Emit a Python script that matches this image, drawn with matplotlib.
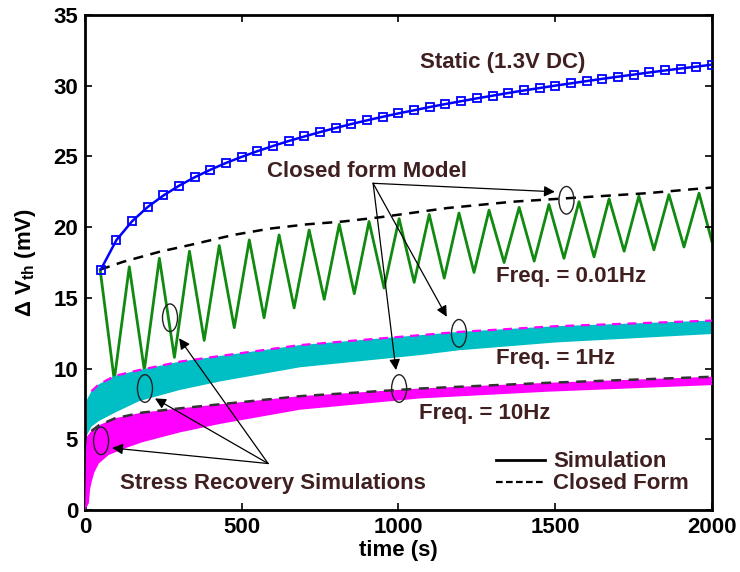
import numpy as np
import matplotlib.pyplot as plt
from matplotlib.patches import Ellipse
from matplotlib.lines import Line2D

plt.rcParams['font.family'] = ['Liberation Sans', 'DejaVu Sans']
plt.rcParams['font.weight'] = 'bold'
plt.rcParams['mathtext.fontset'] = 'custom'
plt.rcParams['mathtext.rm'] = 'Liberation Sans:bold'
plt.rcParams['mathtext.bf'] = 'Liberation Sans:bold'

# Static (1.3V DC) stress, simulation (markers every 50 s)
static_t = list(range(50, 2001, 50))
static_v = [17.0, 19.09, 20.42, 21.43, 22.24, 22.93, 23.53, 24.06, 24.54, 24.97,
            25.37, 25.74, 26.09, 26.41, 26.72, 27.01, 27.29, 27.55, 27.80, 28.04,
            28.26, 28.49, 28.70, 28.90, 29.10, 29.29, 29.48, 29.66, 29.83, 30.00,
            30.16, 30.32, 30.48, 30.63, 30.78, 30.93, 31.07, 31.21, 31.34, 31.48]

# Freq. = 0.01Hz simulation (peaks and valleys of the sawtooth)
f001_t = [48, 93, 141, 189, 237, 285, 333, 380, 428, 476, 524, 571, 619, 667,
          715, 763, 811, 859, 906, 954, 1002, 1050, 1098, 1146, 1193, 1241,
          1289, 1337, 1385, 1433, 1480, 1528, 1576, 1624, 1672, 1720, 1767,
          1815, 1863, 1911, 1959, 2000]
f001_v = [17.0, 9.2, 17.2, 9.9, 17.8, 10.8, 18.3, 12.0, 18.7, 12.9, 19.1, 13.6,
          19.45, 14.3, 19.8, 14.9, 20.2, 15.3, 20.4, 15.7, 20.6, 16.1, 20.9,
          16.4, 21.0, 16.8, 21.2, 17.5, 21.4, 17.6, 21.6, 17.8, 21.8, 17.9,
          22.0, 18.3, 22.2, 18.4, 22.3, 18.6, 22.4, 19.0]

# Freq. = 0.01Hz closed form
f001_cf_t = [48, 121, 239, 335, 473, 590, 708, 823, 941, 1155, 1365, 1579, 1793, 2000]
f001_cf_v = [17.0, 17.55, 18.27, 18.74, 19.45, 19.9, 20.2, 20.4, 20.7, 21.35,
             21.8, 22.1, 22.4, 22.8]

# Freq. = 1Hz simulation band (upper edge = closed form)
f1_up_t = [0, 6, 20, 44, 96, 172, 303, 431, 686, 1069, 1193, 1500, 2000]
f1_up_v = [0.0, 7.8, 8.4, 8.9, 9.5, 9.9, 10.5, 10.9, 11.67, 12.37, 12.6, 13.0, 13.4]
f1_lo_t = [0, 6, 20, 44, 96, 172, 303, 431, 686, 1069, 1193, 1500, 2000]
f1_lo_v = [0.0, 5.3, 5.9, 6.3, 6.9, 7.7, 8.5, 9.1, 10.1, 10.96, 11.3, 11.85, 12.45]

# Freq. = 10Hz simulation band (upper edge = closed form)
f10_up_t = [0, 3, 6, 20, 44, 96, 182, 303, 686, 1069, 1473, 2000]
f10_up_v = [0.0, 4.5, 5.2, 5.6, 6.0, 6.5, 6.9, 7.2, 8.06, 8.6, 9.0, 9.43]
f10_lo_t = [0, 12, 16, 22, 30, 44, 75, 118, 182, 303, 431, 686, 1069, 1473, 2000]
f10_lo_v = [0.0, 0.5, 1.5, 2.1, 2.7, 3.3, 3.9, 4.3, 4.8, 5.5, 6.1, 7.1, 7.9, 8.37, 8.84]

text_color = '#3f1f1f'
fs = 16

fig = plt.figure(figsize=(7.4, 5.72), dpi=100)
ax = fig.add_axes([0.115, 0.108, 0.847, 0.866])

# bands
ax.fill(f1_up_t + f1_lo_t[::-1], f1_up_v + f1_lo_v[::-1], color='#00bfc4', lw=0, zorder=2)
ax.fill(f10_up_t + f10_lo_t[::-1], f10_up_v + f10_lo_v[::-1], color='#ff00ff', lw=0, zorder=3)
ax.plot(f1_up_t[2:], f1_up_v[2:], color='#ff00ff', lw=1.6, ls=(0, (4, 3)), zorder=4)
ax.plot(f10_up_t[3:], f10_up_v[3:], color='#333333', lw=1.8, ls=(0, (4, 3)), zorder=4)

# 0.01Hz and static
ax.plot(f001_t, f001_v, color='#108a10', lw=2.0, zorder=1.5)
ax.plot(f001_cf_t, f001_cf_v, color='k', lw=1.8, ls=(0, (4, 3)), zorder=4)
ax.plot(static_t, static_v, color='#0000ff', lw=1.8, marker='s', ms=5.5,
        mfc='none', mew=1.3, zorder=5)

# ellipses marking the curves
ellipses = [(1536, 21.9), (1193, 12.5), (1002, 8.6), (51, 4.9), (191, 8.6), (271, 13.6)]
for cx, cy in ellipses:
    ax.add_patch(Ellipse((cx, cy), 48, 1.95, fill=False, ec='#222222', lw=1.0, zorder=6))

arrow = dict(arrowstyle='-|>', color='k', lw=0.9, mutation_scale=16, shrinkA=0, shrinkB=0)
for end in [(1499, 22.5), (1154, 13.67), (992, 9.9)]:
    ax.annotate('', xy=end, xytext=(919, 23.1), arrowprops=arrow, zorder=7)
for end in [(86, 4.4), (223, 7.9), (300, 12.15)]:
    ax.annotate('', xy=end, xytext=(584, 3.3), arrowprops=arrow, zorder=7)

tk = dict(color=text_color, fontsize=fs, fontweight='bold', ha='center', va='center', zorder=8)
ax.text(1333, 31.6, 'Static (1.3V DC)', **tk)
ax.text(901, 23.9, 'Closed form Model', **tk)
ax.text(1552, 16.5, 'Freq. = 0.01Hz', **tk)
ax.text(1502, 10.75, 'Freq. = 1Hz', **tk)
ax.text(1274, 6.86, 'Freq. = 10Hz', **tk)
ax.text(598, 1.9, 'Stress Recovery Simulations', **tk)

handles = [Line2D([], [], color='k', lw=2.0),
           Line2D([], [], color='k', lw=1.6, ls=(0, (3, 1.5)))]
leg = ax.legend(handles, ['Simulation', 'Closed Form'], loc='lower right',
                bbox_to_anchor=(0.985, 0.005), frameon=False, fontsize=fs,
                handlelength=2.2, handletextpad=0.4, labelspacing=0.05,
                borderaxespad=0.2)
for txt in leg.get_texts():
    txt.set_color(text_color)

ax.set_xlim(0, 2000)
ax.set_ylim(0, 35)
ax.set_xticks([0, 500, 1000, 1500, 2000])
ax.set_yticks(range(0, 36, 5))
ax.tick_params(direction='in', top=True, right=True, length=5, width=1.2,
               labelsize=fs, pad=5)
for s in ax.spines.values():
    s.set_linewidth(2.0)

ax.set_xlabel('time (s)', fontsize=fs, fontweight='bold', labelpad=1)
ax.set_ylabel(r'Δ V$_{\mathbf{th}}$ (mV)', fontsize=fs, fontweight='bold', labelpad=11)

fig.savefig('out.png', dpi=100)
